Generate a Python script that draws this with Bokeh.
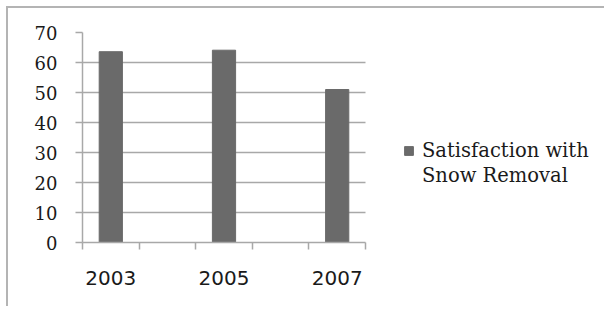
from bokeh.plotting import figure
from bokeh.models import Range1d, FixedTicker, Legend, LegendItem, ColumnDataSource
from bokeh.embed import file_html
from bokeh.resources import INLINE

years = [2003, 2005, 2007]
satisfaction = [63.6, 64.1, 51.0]
y_ticks = [0, 10, 20, 30, 40, 50, 60, 70]
x_tick_labels = {2003: "2003", 2005: "2005", 2007: "2007"}
category_edges = [2002.5, 2003.5, 2004.5, 2005.5, 2006.5, 2007.5]
legend_lines = ["Satisfaction with", "Snow Removal"]

src = ColumnDataSource(dict(x=years, top=satisfaction))

# frame spans the legend area too; axis and grid are bounded to the category span
x_end = 2002.5 + 524 / 56.6
p = figure(width=598, height=300, output_backend="svg", toolbar_location=None,
           x_range=Range1d(2002.5, x_end), y_range=Range1d(0, 70),
           min_border_left=74, min_border_right=0, min_border_top=24, min_border_bottom=66,
           styles={"margin-left": "6px", "margin-top": "6px",
                   "border-top": "2px solid #b4b4b4", "border-left": "2px solid #b4b4b4"})
p.outline_line_color = None
p.background_fill_color = "white"
p.border_fill_color = "white"

r = p.vbar(x="x", top="top", width=0.41, bottom=0, source=src,
           fill_color="#6a6a6a", line_color="#6a6a6a")
blank = p.vbar(x=[], top=[], width=0.41, fill_alpha=0, line_alpha=0)

grid_col = "#a8a8a8"
p.xgrid.grid_line_color = None
p.ygrid.grid_line_color = grid_col
p.ygrid.grid_line_width = 1.5
p.ygrid.cross_bounds = (category_edges[0], category_edges[-1])
p.yaxis.ticker = FixedTicker(ticks=y_ticks)
p.xaxis.ticker = FixedTicker(ticks=years, minor_ticks=category_edges)
p.xaxis.major_label_overrides = x_tick_labels
p.xaxis.bounds = (category_edges[0], category_edges[-1])

for ax in (p.xaxis[0], p.yaxis[0]):
    ax.axis_line_color = grid_col
    ax.axis_line_width = 1.5
    ax.major_tick_line_color = grid_col
    ax.minor_tick_line_color = grid_col
    ax.major_tick_line_width = 1.5
    ax.minor_tick_line_width = 1.5
    ax.major_label_text_color = "#1a1a1a"

p.yaxis.major_tick_in = 0
p.yaxis.major_tick_out = 7
p.yaxis.minor_tick_in = 0
p.yaxis.minor_tick_out = 0
p.yaxis.major_label_standoff = 18
p.yaxis.major_label_text_font = "DejaVu Serif"
p.yaxis.major_label_text_font_size = "18px"

p.xaxis.major_tick_in = 0
p.xaxis.major_tick_out = 0
p.xaxis.minor_tick_in = 0
p.xaxis.minor_tick_out = 7
p.xaxis.major_label_standoff = 21
p.xaxis.major_label_text_font = "DejaVu Sans"
p.xaxis.major_label_text_font_size = "20px"

legend = Legend(items=[LegendItem(label=legend_lines[0], renderers=[r]),
                       LegendItem(label=legend_lines[1], renderers=[blank])],
                location=(321, 54), orientation="vertical",
                glyph_width=11, glyph_height=11, label_standoff=8,
                label_height=25, padding=0, margin=0, spacing=0,
                border_line_color=None, background_fill_alpha=0,
                label_text_font="DejaVu Serif", label_text_font_size="19.5px",
                label_text_color="#1a1a1a")
p.add_layout(legend, "center")

open("out.html", "w").write(file_html(p, INLINE))
